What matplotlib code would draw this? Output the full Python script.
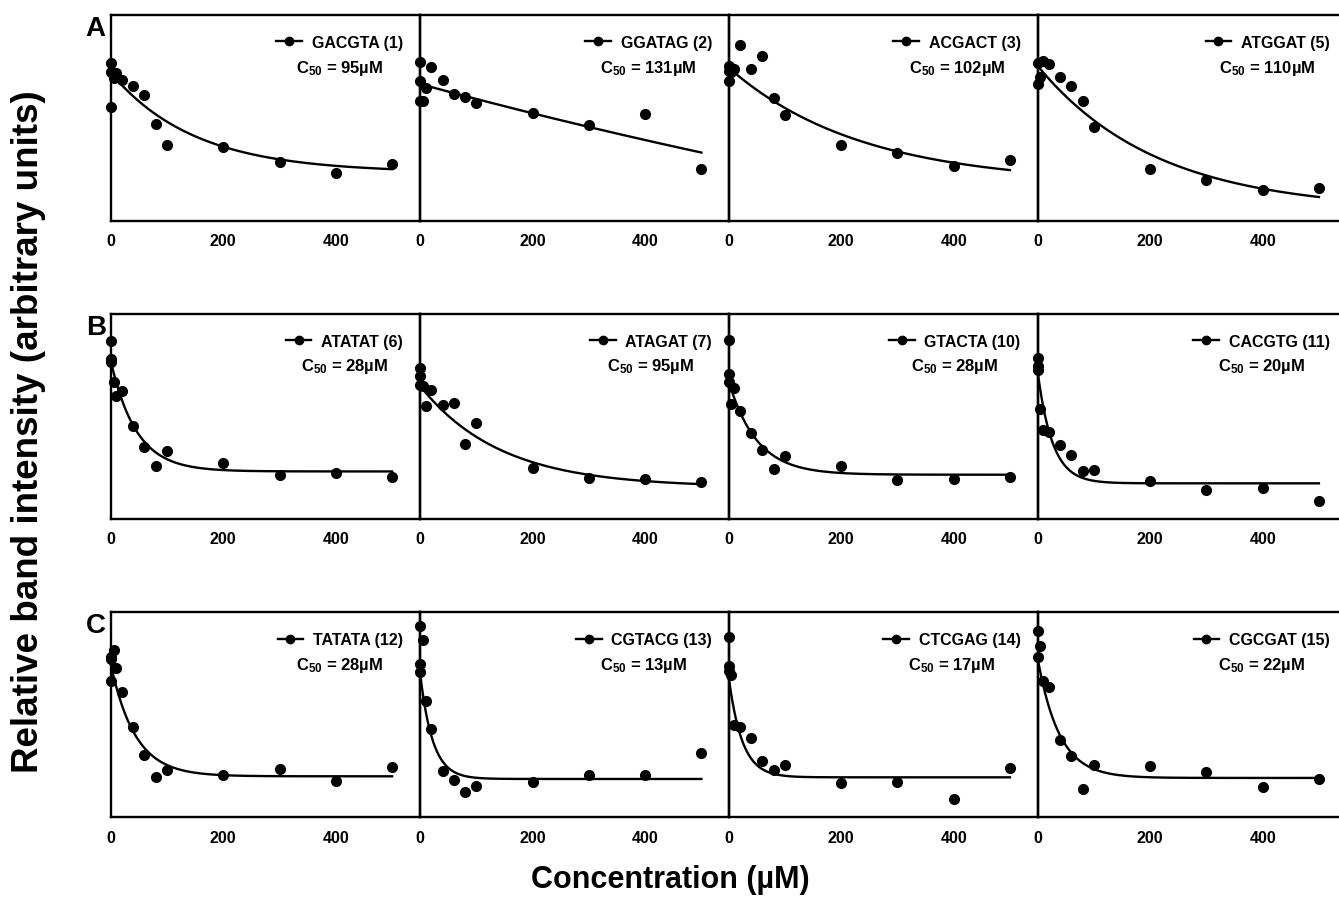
import numpy as np
import matplotlib
matplotlib.use("Agg")
import matplotlib.pyplot as plt
from matplotlib.lines import Line2D

plt.rcParams['font.family'] = ['Liberation Sans', 'DejaVu Sans']
plt.rcParams['font.weight'] = 'bold'
plt.rcParams['mathtext.fontset'] = 'custom'
plt.rcParams['mathtext.rm'] = 'Liberation Sans:bold'
plt.rcParams['mathtext.bf'] = 'Liberation Sans:bold'
plt.rcParams['mathtext.it'] = 'Liberation Sans:bold'

# ---------------- data ----------------
row_letters = ["A", "B", "C"]
sequences = [["GACGTA (1)", "GGATAG (2)", "ACGACT (3)", "ATGGAT (5)"],
             ["ATATAT (6)", "ATAGAT (7)", "GTACTA (10)", "CACGTG (11)"],
             ["TATATA (12)", "CGTACG (13)", "CTCGAG (14)", "CGCGAT (15)"]]
c50_values = [[95, 131, 102, 110],
              [28, 95, 28, 20],
              [28, 13, 17, 22]]

conc_std = [0, 0, 0, 5, 10, 20, 40, 60, 80, 100, 200, 300, 400, 500]
conc_two0 = [0, 0, 5, 10, 20, 40, 60, 80, 100, 200, 300, 400, 500]

int_gacgta = [0.765, 0.724, 0.554, 0.694, 0.718, 0.684, 0.656, 0.613, 0.470, 0.370, 0.360, 0.284, 0.235, 0.277]
int_ggatag = [0.770, 0.681, 0.583, 0.583, 0.648, 0.750, 0.684, 0.616, 0.603, 0.575, 0.522, 0.467, 0.519, 0.251]
int_acgact = [0.754, 0.729, 0.681, 0.721, 0.737, 0.856, 0.737, 0.802, 0.595, 0.514, 0.368, 0.329, 0.267, 0.297]
int_atggat = [0.765, 0.665, 0.697, 0.775, 0.762, 0.700, 0.653, 0.583, 0.457, 0.251, 0.201, 0.149, 0.159]
int_atatat = [0.870, 0.780, 0.764, 0.667, 0.602, 0.623, 0.455, 0.350, 0.260, 0.333, 0.273, 0.216, 0.224, 0.207]
int_atagat = [0.737, 0.699, 0.655, 0.647, 0.550, 0.629, 0.556, 0.564, 0.366, 0.467, 0.247, 0.198, 0.195, 0.179]
int_gtacta = [0.875, 0.707, 0.667, 0.561, 0.637, 0.528, 0.418, 0.337, 0.244, 0.309, 0.257, 0.190, 0.195, 0.203]
int_cacgtg = [0.785, 0.748, 0.728, 0.537, 0.434, 0.426, 0.361, 0.312, 0.233, 0.239, 0.184, 0.141, 0.151, 0.089]
int_tatata = [0.784, 0.772, 0.667, 0.818, 0.728, 0.613, 0.439, 0.304, 0.198, 0.233, 0.208, 0.236, 0.179, 0.244]
int_cgtacg = [0.932, 0.748, 0.707, 0.865, 0.569, 0.431, 0.224, 0.182, 0.125, 0.154, 0.174, 0.208, 0.208, 0.312]
int_ctcgag = [0.878, 0.740, 0.715, 0.696, 0.450, 0.439, 0.385, 0.276, 0.233, 0.255, 0.166, 0.174, 0.089, 0.239]
int_cgcgat = [0.911, 0.780, 0.834, 0.663, 0.634, 0.379, 0.301, 0.138, 0.255, 0.249, 0.220, 0.146, 0.187]

concs = [[conc_std, conc_std, conc_std, conc_two0],
         [conc_std, conc_std, conc_std, conc_std],
         [conc_std, conc_std, conc_std, conc_two0]]
intensities = [[int_gacgta, int_ggatag, int_acgact, int_atggat],
               [int_atatat, int_atagat, int_gtacta, int_cacgtg],
               [int_tatata, int_cgtacg, int_ctcgag, int_cgcgat]]

# fitted one-phase decay parameters: top, bottom (plateau), rate
fit_top = [[0.720, 0.665, 0.745, 0.754],
           [0.772, 0.650, 0.675, 0.724],
           [0.748, 0.707, 0.691, 0.780]]
fit_bottom = [[0.235, -1.0, 0.180, 0.050],
              [0.232, 0.155, 0.216, 0.174],
              [0.200, 0.187, 0.195, 0.192]]
fit_rate = [[0.00675, 0.000446, 0.00426, 0.00472],
            [0.022, 0.007, 0.020, 0.038],
            [0.023, 0.045, 0.042, 0.026]]

xticks = [0, 200, 400]

# ---------------- layout ----------------
W, H = 1339, 912
fig = plt.figure(figsize=(W / 100, H / 100), dpi=100)

col_left_px = [110.7, 420.0, 728.5, 1037.5]
panel_w_px = 309.0
row_top_px = [16.0, 315.0, 613.3]
row_bot_px = [222.0, 520.0, 818.3]

lw_axis = 1.7
for r in range(3):
    for c in range(4):
        left = col_left_px[c] / W
        bottom = 1 - row_bot_px[r] / H
        height = (row_bot_px[r] - row_top_px[r]) / H
        ax = fig.add_axes([left, bottom, panel_w_px / W, height])
        ax.set_facecolor('none')
        x = np.array(concs[r][c], dtype=float)
        y = np.array(intensities[r][c])
        xs = np.linspace(0, 500, 300)
        top, bot, k = fit_top[r][c], fit_bottom[r][c], fit_rate[r][c]
        ys = bot + (top - bot) * np.exp(-k * xs)
        ax.plot(xs, ys, color='black', lw=1.7, zorder=3, clip_on=False)
        ax.plot(x, y, 'o', color='black', ms=7.0, zorder=4, clip_on=False)
        ax.set_xlim(0, 549)
        ax.set_ylim(0, 1)
        ax.set_yticks([])
        ax.set_xticks(xticks)
        ax.set_xticklabels([str(t) for t in xticks], fontsize=11.5, fontweight='bold')
        ax.tick_params(axis='x', length=0, pad=9)
        for s in ax.spines.values():
            s.set_linewidth(lw_axis)
        handle = Line2D([], [], color='black', lw=1.7, marker='o', ms=6)
        leg = ax.legend([handle], [sequences[r][c]], loc='center right',
                        bbox_to_anchor=(0.945, 1 - 27.5 / 206), frameon=False,
                        borderpad=0, borderaxespad=0, handlelength=1.6,
                        handletextpad=0.6, prop={'weight': 'bold', 'size': 11.5})
        fig.canvas.draw()
        bb = leg.get_window_extent().transformed(ax.transAxes.inverted())
        xc = (bb.x0 + bb.x1) / 2
        ax.text(xc, 1 - 52 / 206, r"C$_{\mathbf{50}}$ = %dµM" % c50_values[r][c],
                transform=ax.transAxes, ha='center', va='center',
                fontsize=12, fontweight='bold')
        if c == 0:
            ax.text(-25 / panel_w_px, 1.0, row_letters[r], transform=ax.transAxes,
                    ha='left', va='top', fontsize=20, fontweight='bold')

fig.text(29 / W, 1 - 432 / H, "Relative band intensity (arbitrary units)",
         rotation=90, ha='center', va='center', fontsize=26.5, fontweight='bold')
fig.text(670 / W, 1 - 880 / H, "Concentration (µM)",
         ha='center', va='center', fontsize=22, fontweight='bold')

fig.savefig("out.png", dpi=100)
